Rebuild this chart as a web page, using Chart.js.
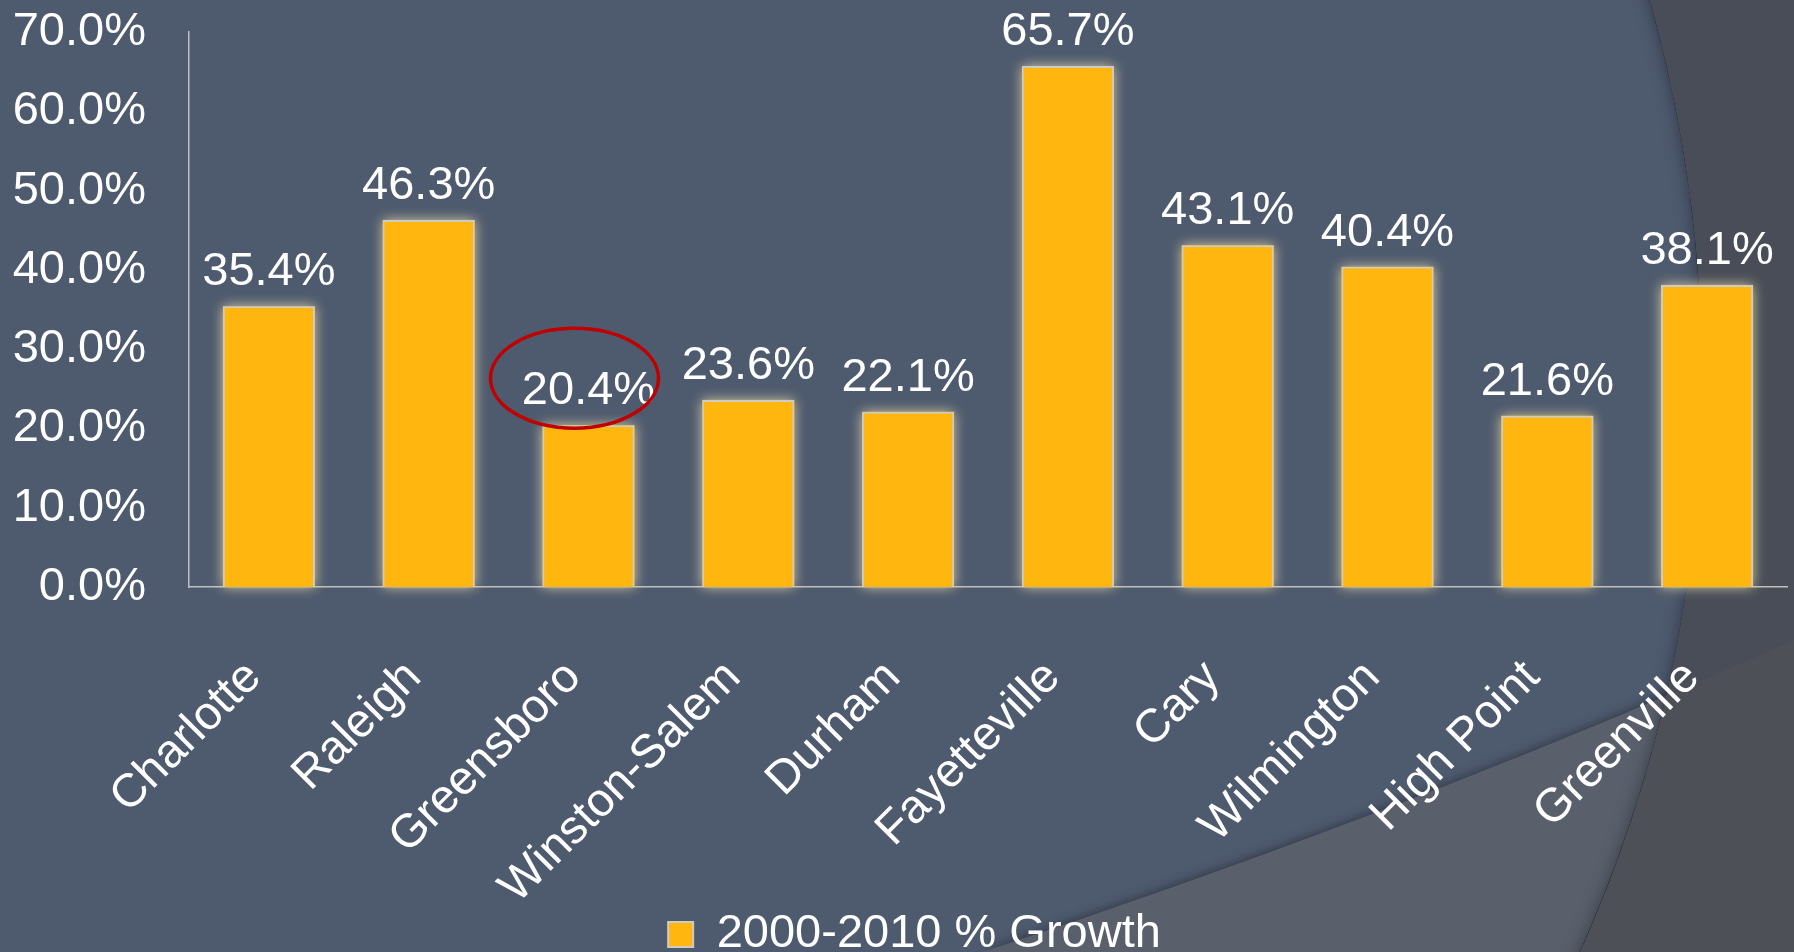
<!DOCTYPE html>
<html>
<head>
<meta charset="utf-8">
<script src="https://cdn.jsdelivr.net/npm/chart.js@4.4.1/dist/chart.umd.min.js"></script>
<style>
  html, body { margin: 0; padding: 0; background: #4E5A6E; overflow: hidden; }
  #wrap { position: relative; width: 1794px; height: 952px; }
</style>
</head>
<body>
<div id="wrap"><canvas id="chart"></canvas></div>
<script>
// Data
const cities = ["Charlotte", "Raleigh", "Greensboro", "Winston-Salem", "Durham",
  "Fayetteville", "Cary", "Wilmington", "High Point", "Greenville"];
const growth = [35.4, 46.3, 20.4, 23.6, 22.1, 65.7, 43.1, 40.4, 21.6, 38.1];
const yTicks = [0, 10, 20, 30, 40, 50, 60, 70];
const seriesName = "2000-2010 % Growth";
const highlighted = "Greensboro";

const FONT = "'Liberation Sans', Arial, sans-serif";
const BAR = "#FFB60F";
Chart.defaults.font.family = FONT;

const pct = (v) => v.toFixed(1) + "%";

// slide background: slate circle, dark corner and lighter lower band
const backdrop = {
  id: "backdrop",
  beforeDraw(chart) {
    const { ctx, width, height } = chart;
    const R = 1400;
    const band = () => {
      ctx.beginPath();
      ctx.moveTo(983, height);
      ctx.quadraticCurveTo(1424, 806, width, 640);
      ctx.lineTo(width, height);
      ctx.closePath();
    };
    const circle = (r) => {
      ctx.beginPath();
      ctx.arc(302, 380, r, 0, Math.PI * 2);
    };
    ctx.save();
    ctx.fillStyle = "#484D57";
    ctx.fillRect(0, 0, width, height);
    band();
    ctx.fillStyle = "#4D5057";
    ctx.fill();

    circle(R);
    ctx.fillStyle = "#4E5A6E";
    ctx.fill();

    ctx.save();
    circle(R);
    ctx.clip();
    // band inside the circle, casting a soft shadow upward
    ctx.save();
    ctx.shadowColor = "rgba(25,30,40,0.5)";
    ctx.shadowBlur = 10;
    ctx.shadowOffsetY = -2;
    band();
    ctx.fillStyle = "#5A606B";
    ctx.fill();
    ctx.restore();
    // inner shade along the circle rim
    ctx.shadowColor = "rgba(25,30,42,0.55)";
    ctx.shadowBlur = 16;
    ctx.lineWidth = 20;
    ctx.strokeStyle = "#000";
    circle(R + 10);
    ctx.stroke();
    ctx.restore();
    ctx.restore();
  },
  // let the y tick labels use the full left margin (layout padding is only there to centre the legend)
  afterLayout(chart) {
    chart.scales.y.left = 0;
  }
};

// soft glow round each bar (the bar element clips its own shadow, so paint it first)
const glow = {
  id: "glow",
  beforeDatasetDraw(chart, args) {
    const ctx = chart.ctx;
    ctx.save();
    ctx.shadowColor = "rgba(235,222,175,0.85)";
    ctx.shadowBlur = 12;
    ctx.fillStyle = BAR;
    args.meta.data.forEach((bar) => {
      const { x, y, base, width } = bar.getProps(["x", "y", "base", "width"], true);
      ctx.fillRect(x - width / 2, y, width, base - y);
    });
    ctx.restore();
  }
};

// value labels over the bars + red ring on the highlighted city
const valueLabels = {
  id: "valueLabels",
  afterDatasetsDraw(chart) {
    const { ctx } = chart;
    const meta = chart.getDatasetMeta(0);
    ctx.save();
    ctx.font = "47px " + FONT;
    ctx.fillStyle = "#FFFFFF";
    ctx.textAlign = "center";
    ctx.textBaseline = "alphabetic";
    meta.data.forEach((bar, i) => {
      ctx.fillText(pct(growth[i]), bar.x, bar.y - 21);
    });

    const hi = meta.data[cities.indexOf(highlighted)];
    ctx.strokeStyle = "#C00000";
    ctx.lineWidth = 3.5;
    ctx.beginPath();
    ctx.ellipse(hi.x - 14, hi.y - 47, 84, 50, 0, 0, Math.PI * 2);
    ctx.stroke();
    ctx.restore();
  }
};

const ctx = document.getElementById("chart").getContext("2d");
new Chart(ctx, {
  type: "bar",
  data: {
    labels: cities,
    datasets: [{
      label: seriesName,
      data: growth,
      backgroundColor: BAR,
      borderColor: "#CFCBC2",
      borderWidth: 2,
      categoryPercentage: 1,
      barPercentage: 0.576
    }]
  },
  options: {
    responsive: true,
    maintainAspectRatio: false,
    animation: false,
    layout: { padding: { top: 32, right: 7, left: 42, bottom: -16 } },
    plugins: {
      legend: {
        position: "bottom",
        labels: {
          color: "#FFFFFF",
          font: { size: 47 },
          boxWidth: 25,
          boxHeight: 25,
          padding: 0
        }
      },
      tooltip: { enabled: false }
    },
    scales: {
      x: {
        grid: { display: false, drawTicks: false },
        border: { color: "#BFBFBF", width: 1.5 },
        ticks: {
          color: "#FFFFFF",
          font: { size: 47 },
          minRotation: 45,
          maxRotation: 45,
          autoSkip: false,
          padding: 63,
          labelOffset: -15
        },
        afterFit(scale) {
          scale.height = 324;
          scale.paddingLeft = 0;
          scale.paddingRight = 0;
        }
      },
      y: {
        min: 0,
        max: 70,
        grid: { display: false, drawTicks: false },
        border: { color: "#BFBFBF", width: 1.5 },
        ticks: {
          color: "#FFFFFF",
          font: { size: 47 },
          padding: 43,
          callback: (v) => pct(v)
        },
        afterBuildTicks(scale) { scale.ticks = yTicks.map((v) => ({ value: v })); },
        afterFit(scale) {
          scale.width = 147;
          scale.paddingTop = 0;
          scale.paddingBottom = 0;
        }
      }
    }
  },
  plugins: [backdrop, glow, valueLabels]
});
</script>
</body>
</html>
